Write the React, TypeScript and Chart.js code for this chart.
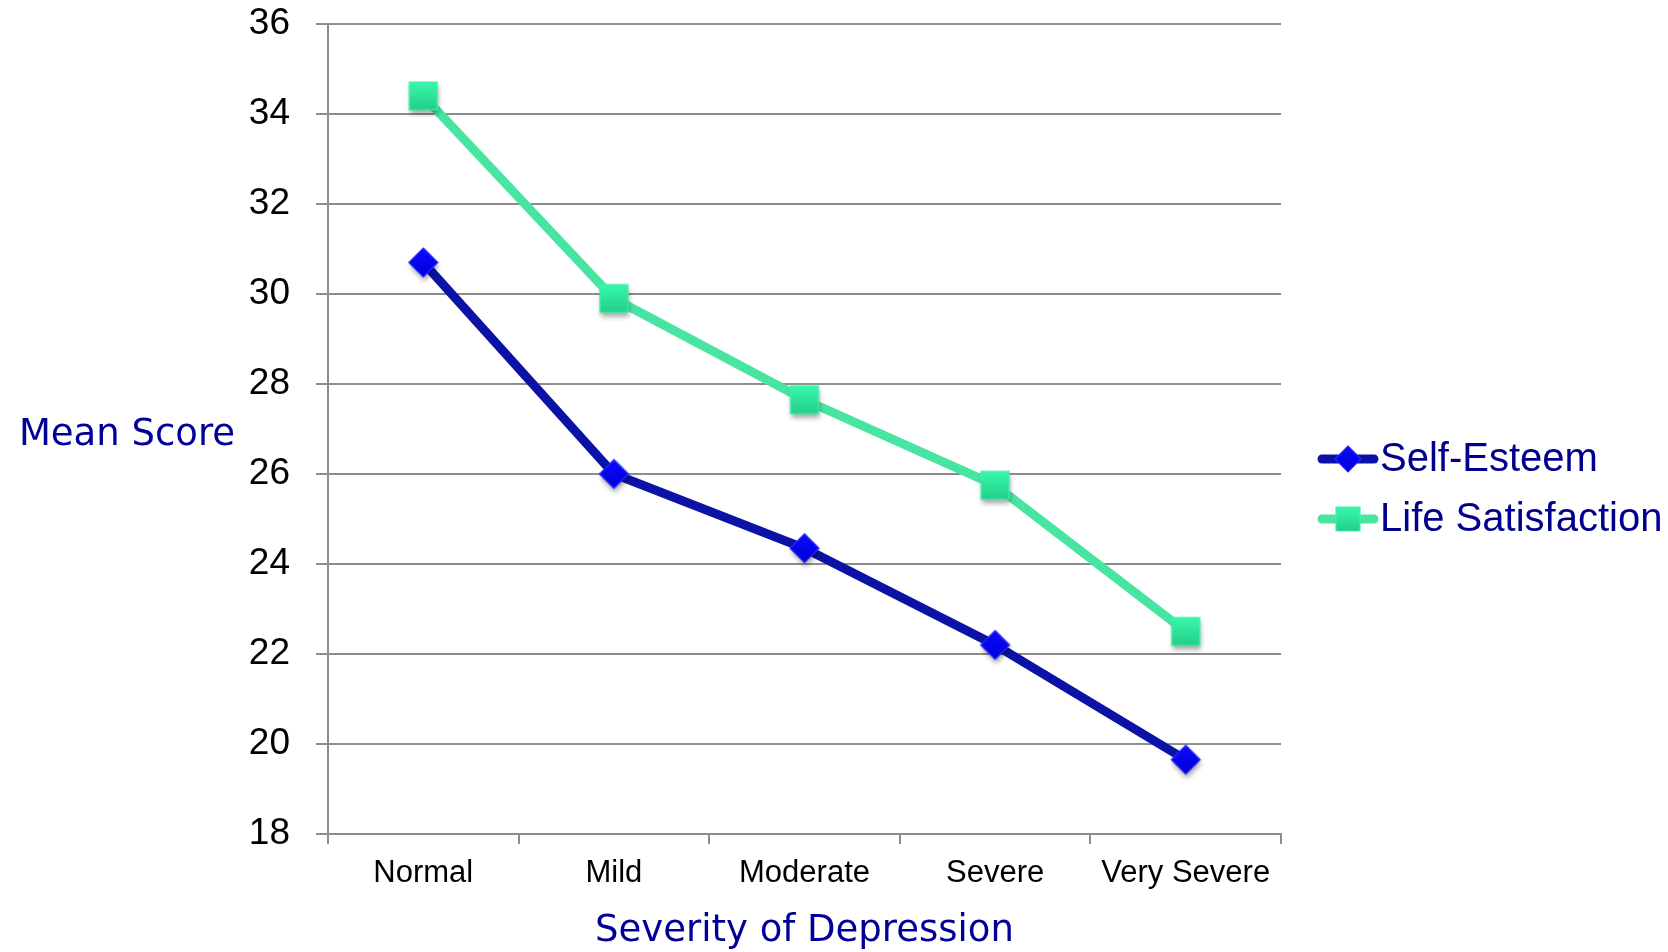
import React, { useEffect, useRef } from 'react';
import { Chart, registerables } from 'chart.js';

Chart.register(...registerables);

const categories = ['Normal', 'Mild', 'Moderate', 'Severe', 'Very Severe'];
const selfEsteem = [30.7, 26.0, 24.35, 22.2, 19.65];
const lifeSatisfaction = [34.4, 29.9, 27.65, 25.75, 22.5];
const seriesLabels = ['Self-Esteem', 'Life Satisfaction'];
const yMin = 18;
const yMax = 36;
const yStep = 2;
const xTitle = 'Severity of Depression';
const yTitle = 'Mean Score';

const W = 1668;
const H = 952;
const PLOT_LEFT = 328;
const PLOT_RIGHT = 1281;
const PLOT_TOP = 24;
const PLOT_BOTTOM = 834;
const Y_AXIS_W = 120;
const X_AXIS_H = H - PLOT_BOTTOM;

const titleFont = "'Comic Sans MS', 'DejaVu Sans', sans-serif";
const tickFont = "'Liberation Sans', Arial, sans-serif";
const navy = '#000099';

const SE_LINE = '#0d12a6';
const LS_LINE = '#48e5a2';

function makeMarker(kind: 'diamond' | 'square', size: number, withShadow: boolean): HTMLCanvasElement {
  const c = document.createElement('canvas');
  const S = size + 16;
  c.width = S;
  c.height = S;
  const ctx = c.getContext('2d') as CanvasRenderingContext2D;
  const cx = S / 2;
  const cy = S / 2;
  const h = size / 2;
  if (withShadow) {
    ctx.shadowColor = 'rgba(0,0,0,0.35)';
    ctx.shadowBlur = 5;
    ctx.shadowOffsetX = 1;
    ctx.shadowOffsetY = 4;
  }
  ctx.beginPath();
  if (kind === 'diamond') {
    ctx.moveTo(cx, cy - h);
    ctx.lineTo(cx + h, cy);
    ctx.lineTo(cx, cy + h);
    ctx.lineTo(cx - h, cy);
    ctx.closePath();
    const g = ctx.createLinearGradient(0, cy - h, 0, cy + h);
    g.addColorStop(0, '#0a0aff');
    g.addColorStop(1, '#0000d8');
    ctx.fillStyle = g;
  } else {
    ctx.rect(cx - h, cy - h, size, size);
    const g = ctx.createLinearGradient(0, cy - h, 0, cy + h);
    g.addColorStop(0, '#38f8aa');
    g.addColorStop(1, '#22cf8a');
    ctx.fillStyle = g;
  }
  ctx.fill();
  ctx.shadowColor = 'rgba(0,0,0,0)';
  ctx.lineWidth = 1.2;
  ctx.strokeStyle = kind === 'diamond' ? '#2a2aff' : '#45eeb0';
  ctx.stroke();
  return c;
}

const decorPlugin = {
  id: 'decor',
  afterDraw(chart: any) {
    const ctx = chart.ctx as CanvasRenderingContext2D;
    const area = chart.chartArea;
    ctx.save();
    ctx.fillStyle = navy;
    ctx.font = `37px ${titleFont}`;
    ctx.textAlign = 'center';
    ctx.textBaseline = 'middle';
    ctx.fillText(yTitle, 127, (area.top + area.bottom) / 2 + 6);
    ctx.fillText(xTitle, (area.left + area.right) / 2, 931);

    const items = chart.data.datasets;
    const ys = [459, 519];
    items.forEach((ds: any, i: number) => {
      const y = ys[i];
      ctx.strokeStyle = ds.borderColor;
      ctx.lineWidth = 9;
      ctx.lineCap = 'round';
      ctx.beginPath();
      ctx.moveTo(1322, y);
      ctx.lineTo(1374, y);
      ctx.stroke();
      const img = ds.legendMarker as HTMLCanvasElement;
      ctx.drawImage(img, 1348 - img.width / 2, y - img.height / 2);
      ctx.fillStyle = '#00008c';
      ctx.font = `40px ${tickFont}`;
      ctx.textAlign = 'left';
      ctx.textBaseline = 'middle';
      ctx.fillText(ds.label, 1380, y + 1);
    });
    ctx.restore();
  },
};

export default function App() {
  const ref = useRef<HTMLCanvasElement | null>(null);

  useEffect(() => {
    if (!ref.current) return;
    const seMarker = makeMarker('diamond', 29, true);
    const lsMarker = makeMarker('square', 28, true);
    const seLegend = makeMarker('diamond', 26, false);
    const lsLegend = makeMarker('square', 24, false);
    const chart = new Chart(ref.current, {
      type: 'line',
      data: {
        labels: categories,
        datasets: [
          {
            label: seriesLabels[0],
            data: selfEsteem,
            borderColor: SE_LINE,
            backgroundColor: SE_LINE,
            borderWidth: 9,
            pointStyle: seMarker,
            pointRadius: 15,
            pointHoverRadius: 15,
            tension: 0,
            legendMarker: seLegend,
          },
          {
            label: seriesLabels[1],
            data: lifeSatisfaction,
            borderColor: LS_LINE,
            backgroundColor: LS_LINE,
            borderWidth: 9,
            pointStyle: lsMarker,
            pointRadius: 15,
            pointHoverRadius: 15,
            tension: 0,
            legendMarker: lsLegend,
          },
        ],
      } as any,
      options: {
        responsive: false,
        animation: false,
        devicePixelRatio: 1,
        layout: {
          padding: {
            left: PLOT_LEFT - Y_AXIS_W,
            right: W - PLOT_RIGHT,
            top: PLOT_TOP,
            bottom: 0,
          },
        },
        plugins: {
          legend: { display: false },
          tooltip: { enabled: false },
          title: { display: false },
        },
        scales: {
          x: {
            type: 'category',
            offset: true,
            grid: {
              display: true,
              drawOnChartArea: false,
              drawTicks: true,
              tickLength: 10,
              offset: true,
              color: '#8c8c8c',
              lineWidth: 2,
            },
            border: { display: true, color: '#8c8c8c', width: 2 },
            ticks: {
              color: '#000000',
              font: { family: tickFont, size: 31 },
              padding: 11,
              maxRotation: 0,
              autoSkip: false,
            },
            afterFit: (scale: any) => {
              scale.height = X_AXIS_H;
            },
          },
          y: {
            min: yMin,
            max: yMax,
            grid: {
              color: '#8c8c8c',
              lineWidth: 2,
              drawTicks: true,
              tickLength: 12,
            },
            border: { display: true, color: '#8c8c8c', width: 2 },
            ticks: {
              stepSize: yStep,
              color: '#000000',
              font: { family: tickFont, size: 37 },
              padding: 26,
            },
            afterFit: (scale: any) => {
              scale.width = Y_AXIS_W;
              scale.paddingTop = 0;
              scale.paddingBottom = 0;
            },
          },
        },
      } as any,
      plugins: [decorPlugin],
    });
    return () => chart.destroy();
  }, []);

  return (
    <div style={{ position: 'fixed', left: 0, top: 0, width: W, height: H, background: '#ffffff' }}>
      <canvas ref={ref} width={W} height={H} style={{ display: 'block', width: W, height: H }} />
    </div>
  );
}
